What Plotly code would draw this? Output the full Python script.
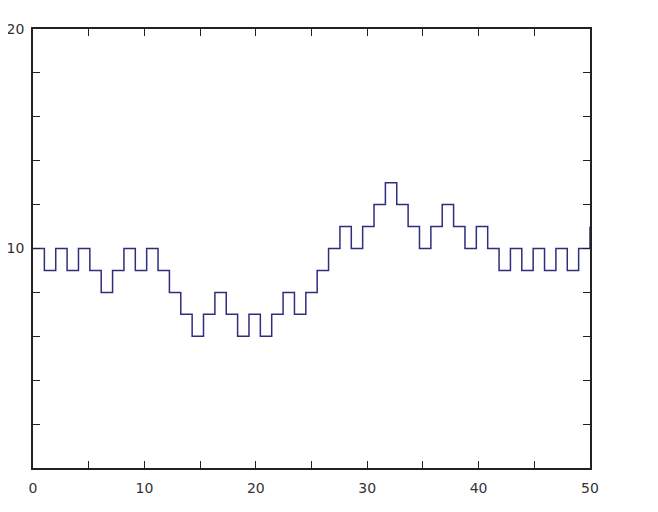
import numpy as np
import plotly.graph_objects as go

# Step values of the walk (one per step), last value is the end point at x=50
values = [10, 9, 10, 9, 10, 9, 8, 9, 10, 9,
          10, 9, 8, 7, 6, 7, 8, 7, 6, 7,
          6, 7, 8, 7, 8, 9, 10, 11, 10, 11,
          12, 13, 12, 11, 10, 11, 12, 11, 10, 11,
          10, 9, 10, 9, 10, 9, 10, 9, 10, 11]
x_vals = np.linspace(0, 50, len(values))

x_tickvals = [0, 5, 10, 15, 20, 25, 30, 35, 40, 45, 50]
x_ticktext = ["0", "", "10", "", "20", "", "30", "", "40", "", "50"]
y_tickvals = [0, 2, 4, 6, 8, 10, 12, 14, 16, 18, 20]
y_ticktext = ["", "", "", "", "", "10", "", "", "", "", "20"]

fig = go.Figure()
fig.add_trace(go.Scatter(
    x=x_vals, y=values, mode="lines", line_shape="hv",
    line=dict(color="#2e2e7e", width=1.5), showlegend=False, cliponaxis=True,
))

axis_common = dict(
    showgrid=False, zeroline=False, showline=True, linecolor="#222222",
    linewidth=1.5, mirror="allticks", ticks="inside", ticklen=7,
    tickwidth=1.3, tickcolor="#222222", automargin=False,
    tickfont=dict(family="DejaVu Sans", size=14, color="#333333"),
)
fig.update_xaxes(range=[0, 50], tickvals=x_tickvals, ticktext=x_ticktext,
                 ticklabelstandoff=6, **axis_common)
fig.update_yaxes(range=[0, 20], tickvals=y_tickvals, ticktext=y_ticktext,
                 ticklabelstandoff=4, **axis_common)

fig.update_layout(
    width=650, height=504,
    margin=dict(l=25, r=68, t=21, b=44),
    plot_bgcolor="white", paper_bgcolor="white",
)
fig.write_html("out.html")
